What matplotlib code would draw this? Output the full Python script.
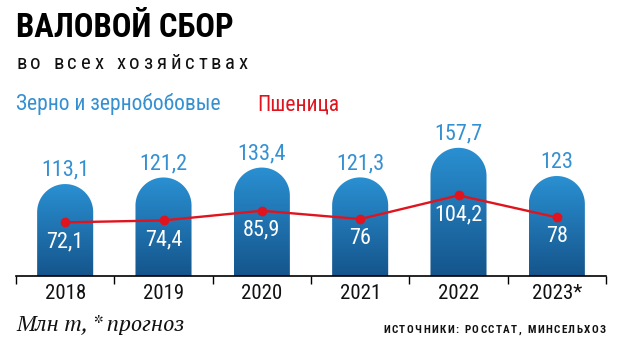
import numpy as np
import matplotlib
matplotlib.use("Agg")
import matplotlib.pyplot as plt
from matplotlib.path import Path
from matplotlib.patches import PathPatch
from matplotlib.colors import LinearSegmentedColormap
from matplotlib import font_manager as fm

# ---- data -------------------------------------------------------------
years = ["2018", "2019", "2020", "2021", "2022", "2023*"]
grain = [113.1, 121.2, 133.4, 121.3, 157.7, 123]
wheat = [72.1, 74.4, 85.9, 76, 104.2, 78]
grain_labels = ["113,1", "121,2", "133,4", "121,3", "157,7", "123"]
wheat_labels = ["72,1", "74,4", "85,9", "76", "104,2", "78"]

# ---- style ------------------------------------------------------------
BLUE_TXT = "#3590d2"
BAR_TOP = "#2a90d2"
BAR_BOT = "#15558c"
RED = "#e0141e"

names = {f.name for f in fm.fontManager.ttflist}


def pick(options, default):
    for o in options:
        if o in names:
            return o
    return default


NARROW = pick(["Roboto Condensed", "PT Sans Narrow", "Fira Sans Condensed",
               "Archivo Narrow", "Asap Condensed"], "DejaVu Sans")
SERIF = pick(["PT Serif", "Liberation Serif", "Noto Serif"], "DejaVu Serif")
FAM = [NARROW, "DejaVu Sans"]
SFAM = [SERIF, "DejaVu Serif"]

W, H = 618, 345
fig = plt.figure(figsize=(W / 100, H / 100), dpi=100)
fig.patch.set_facecolor("white")

# plot area in pixels (left, baseline, right, top)
L, B, R, T = 16, 276, 606, 100
ax = fig.add_axes([L / W, (H - B) / H, (R - L) / W, (B - T) / H])
ax.set_xlim(-0.5, len(years) - 0.5)
ax.set_ylim(0, 216.5)

ax2 = ax.twinx()
ax2.set_ylim(8.3, 217.6)

for a in (ax, ax2):
    a.set_facecolor("none")
    for side in ("top", "right", "left"):
        a.spines[side].set_visible(False)
    a.set_yticks([])
ax.patch.set_visible(False)
ax.spines["bottom"].set_linewidth(1.2)
ax.spines["bottom"].set_color("black")
ax2.spines["bottom"].set_visible(False)

# category ticks
ax.set_xticks(range(len(years)))
ax.set_xticklabels(years, fontsize=15, family=FAM, color="#111111")
ax.tick_params(axis="x", which="major", length=0, pad=6)
ax.set_xticks(np.arange(-0.5, len(years)), minor=True)
ax.tick_params(axis="x", which="minor", length=6, width=1.0, color="black", direction="out")

# ---- bars with rounded tops and vertical gradient -----------------------
bar_w = 0.57
px_per_x = (R - L) / (len(years))
px_per_y = (B - T) / 216.5
rx = bar_w / 2
ry = rx * px_per_x / px_per_y
cmap = LinearSegmentedColormap.from_list("barfill", [BAR_BOT, BAR_TOP])
grad = np.linspace(0, 1, 256).reshape(-1, 1)

for i, h in enumerate(grain):
    x0, x1 = i - rx, i + rx
    t = np.linspace(np.pi, 0, 60)
    arc = np.column_stack([i + rx * np.cos(t), h - ry + ry * np.sin(t)])
    verts = np.vstack([[x0, 0], [x0, h - ry], arc, [x1, h - ry], [x1, 0], [x0, 0]])
    codes = [Path.MOVETO] + [Path.LINETO] * (len(verts) - 2) + [Path.CLOSEPOLY]
    patch = PathPatch(Path(verts, codes), facecolor="none", edgecolor="none")
    ax.add_patch(patch)
    im = ax.imshow(grad, extent=[x0, x1, 0, h], origin="lower", aspect="auto",
                   cmap=cmap, zorder=1)
    im.set_clip_path(patch)
    ax.annotate(grain_labels[i], (i, h), xytext=(0, 6), textcoords="offset points",
                ha="center", va="baseline", fontsize=16, family=FAM,
                color=BLUE_TXT, zorder=5)

ax.set_xlim(-0.5, len(years) - 0.5)
ax.set_ylim(0, 216.5)

# ---- wheat line ---------------------------------------------------------
xs = np.arange(len(years))
ax2.plot(xs, wheat, color=RED, lw=1.7, marker="o", ms=6, zorder=4)
for i, v in enumerate(wheat):
    ax2.annotate(wheat_labels[i], (i, v), xytext=(0, -14), textcoords="offset points",
                 ha="center", va="center", fontsize=16, family=FAM,
                 color="white", zorder=5)


# ---- header / footer text ----------------------------------------------
def spaced(text, x_px, y_px, width_px, ha="left", **kw):
    """Draw text letter by letter, spreading it over width_px."""
    renderer = fig.canvas.get_renderer()

    def tw(s):
        t = fig.text(0, 0, s, **kw)
        w = t.get_window_extent(renderer).width
        t.remove()
        return w

    base = tw("||")
    widths = [tw("|" + ch + "|") - base for ch in text]
    gap = max(0.0, (width_px - sum(widths)) / (len(text) - 1))
    total = sum(widths) + gap * (len(text) - 1)
    x = x_px if ha == "left" else x_px - total
    for ch, w in zip(text, widths):
        if ch != " ":
            fig.text(x / W, 1 - y_px / H, ch, ha="left", va="baseline", **kw)
        x += w + gap


fig.text(L / W, 1 - 37 / H, "ВАЛОВОЙ СБОР", fontsize=23.5, weight="bold",
         family=FAM, color="black", va="baseline")
spaced("во всех хозяйствах", 16, 69, 232, fontsize=15, family=FAM, color="#111111")
fig.text(L / W, 1 - 110 / H, "Зерно и зернобобовые", fontsize=15.5, family=FAM,
         color=BLUE_TXT, va="baseline")
fig.text(257 / W, 1 - 110 / H, "Пшеница", fontsize=15.5, family=FAM,
         color=RED, va="baseline")
fig.text(L / W, 1 - 331 / H, "Млн т, * прогноз", fontsize=16, family=SFAM,
         style="italic", color="#111111", va="baseline")
spaced("ИСТОЧНИКИ: РОССТАТ, МИНСЕЛЬХОЗ", 606, 333, 223, ha="right",
       fontsize=8, weight="bold", family=FAM, color="#111111")

fig.savefig("out.png", dpi=100, facecolor="white")
